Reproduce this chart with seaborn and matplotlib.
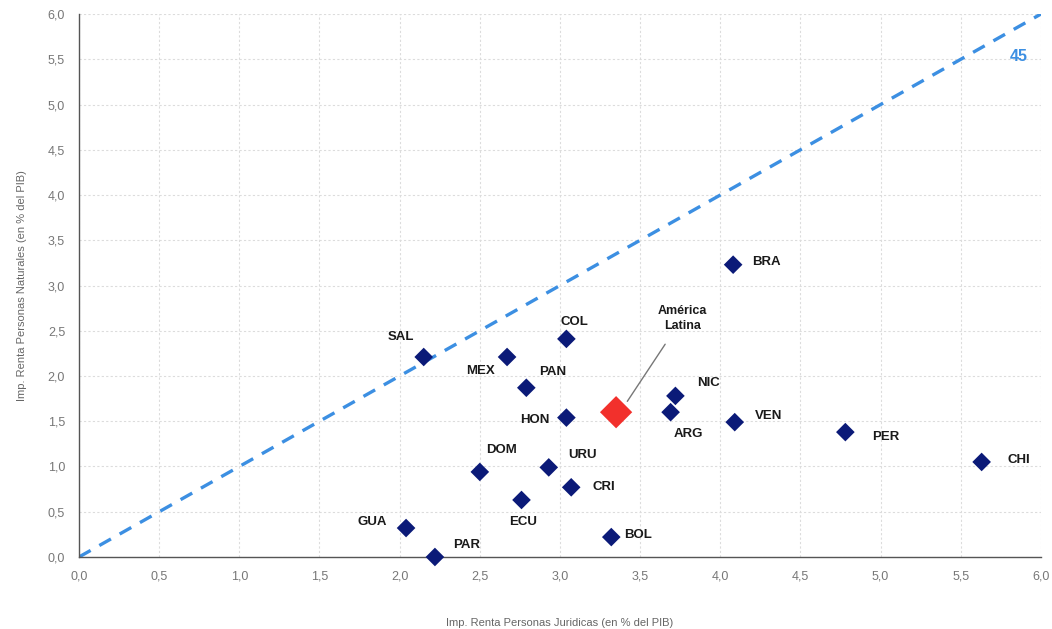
import pandas as pd
import matplotlib.pyplot as plt
import seaborn as sns
from matplotlib.ticker import FuncFormatter

sns.set_style('white')
plt.rcParams['font.family'] = ['Liberation Sans', 'DejaVu Sans']

countries = ['SAL', 'MEX', 'COL', 'PAN', 'HON', 'DOM', 'URU', 'CRI', 'ECU',
             'GUA', 'PAR', 'BOL', 'NIC', 'ARG', 'BRA', 'VEN', 'PER', 'CHI']
juridicas = [2.15, 2.67, 3.04, 2.79, 3.04, 2.50, 2.93, 3.07, 2.76,
             2.04, 2.22, 3.32, 3.72, 3.69, 4.08, 4.09, 4.78, 5.63]
naturales = [2.21, 2.21, 2.41, 1.87, 1.54, 0.94, 0.99, 0.77, 0.63,
             0.32, 0.00, 0.22, 1.78, 1.60, 3.23, 1.49, 1.38, 1.05]

al_name = 'América\nLatina'
al_x = 3.35
al_y = 1.60

# label offsets in pixels (dx, dy)
offsets = {'SAL': (-23, 20), 'MEX': (-27, -14), 'COL': (8, 17), 'PAN': (26, 16),
           'HON': (-32, -2), 'DOM': (22, 22), 'URU': (34, 12), 'CRI': (33, 0),
           'ECU': (2, -22), 'GUA': (-34, 6), 'PAR': (32, 12), 'BOL': (27, 2),
           'NIC': (33, 13), 'ARG': (18, -22), 'BRA': (33, 3), 'VEN': (34, 6),
           'PER': (40, -5), 'CHI': (37, 2)}

df = pd.DataFrame({'pais': countries, 'juridicas': juridicas, 'naturales': naturales})

fig = plt.figure(figsize=(10.52, 6.29), dpi=100)
ax = fig.add_axes([0.0751, 0.1145, 0.9144, 0.8632])

ax.grid(True, color='#dcdcdc', linestyle=(0, (2, 2)), linewidth=0.8)
ax.set_axisbelow(True)

ax.plot([0, 6], [0, 6], linestyle=(0, (4, 3)), color='#3c8fe2', linewidth=2.4, zorder=2)
ax.text(5.86, 5.53, '45', color='#3c8fe2', fontsize=11.5, fontweight='bold',
        ha='center', va='center')

sns.scatterplot(data=df, x='juridicas', y='naturales', marker='D', s=90,
                color='#0b1a78', edgecolor='none', ax=ax, zorder=3, clip_on=False)
ax.scatter([al_x], [al_y], marker='D', s=270, color='#f2302c', edgecolor='none',
           zorder=4)

for p, x, y in zip(countries, juridicas, naturales):
    dx, dy = offsets[p]
    ax.annotate(p, (x, y), xytext=(dx, dy), textcoords='offset pixels',
                ha='center', va='center', fontsize=9.5, fontweight='bold', color='#1a1a1a')

# label for the regional average, with a thin pointer line
ax.annotate(al_name, (al_x + 0.07, al_y + 0.12), xytext=(55, 83),
            textcoords='offset pixels', ha='center', va='center',
            fontsize=9, fontweight='bold', color='#1a1a1a', linespacing=1.3,
            arrowprops=dict(arrowstyle='-', color='#777777', lw=1.0,
                            shrinkA=8, shrinkB=0))

ax.set_xlim(0, 6)
ax.set_ylim(0, 6)
ax.set_xticks([i * 0.5 for i in range(13)])
ax.set_yticks([i * 0.5 for i in range(13)])
fmt = FuncFormatter(lambda v, pos: f'{v:.1f}'.replace('.', ','))
ax.xaxis.set_major_formatter(fmt)
ax.yaxis.set_major_formatter(fmt)
ax.tick_params(axis='both', labelsize=9, colors='#555555', length=4, width=0.8,
               labelcolor='#777777')
ax.tick_params(axis='x', direction='inout', pad=8)
ax.tick_params(axis='y', direction='out', pad=6)

for s in ['top', 'right']:
    ax.spines[s].set_visible(False)
for s in ['left', 'bottom']:
    ax.spines[s].set_color('#555555')
    ax.spines[s].set_linewidth(1.0)

ax.set_xlabel('Imp. Renta Personas Juridicas (en % del PIB)', fontsize=8,
              color='#666666', labelpad=25)
ax.set_ylabel('Imp. Renta Personas Naturales (en % del PIB)', fontsize=8,
              color='#666666', labelpad=15)

fig.savefig('out.png', dpi=100)
